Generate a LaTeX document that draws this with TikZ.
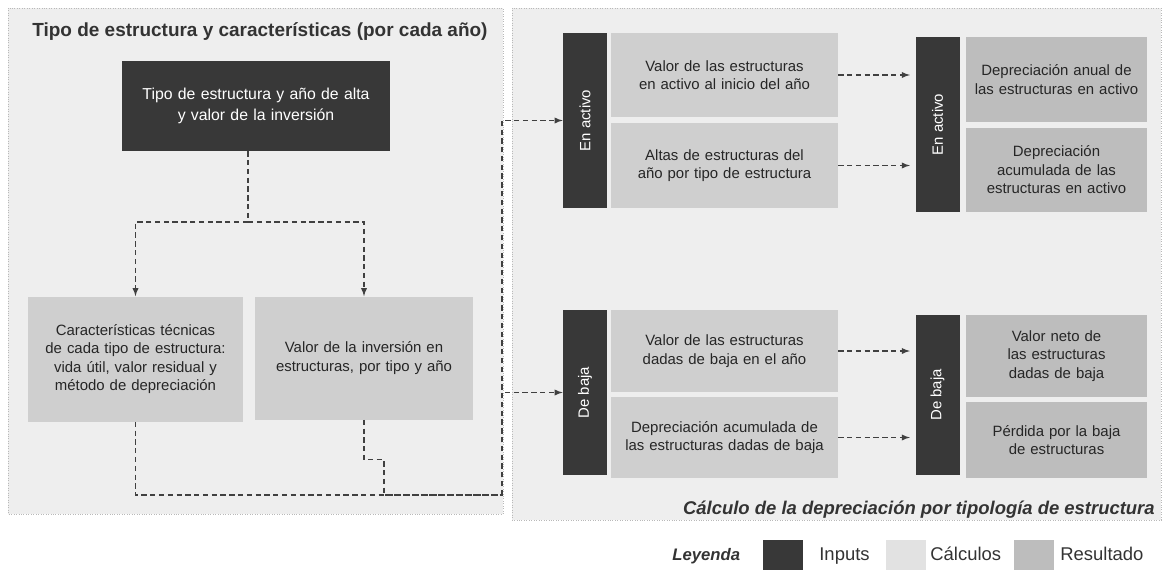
\documentclass[tikz,border=0pt]{standalone}
\usepackage{fontspec}
\setmainfont{Liberation Sans}
\hyphenpenalty=10000
\exhyphenpenalty=10000
\colorlet{panelbg}{gray!13}
\colorlet{inputc}{black!78}
\colorlet{calcc}{gray!38}
\colorlet{resc}{gray!52}
\tikzset{>=latex}
\tikzset{
  panel/.style = {fill=panelbg, draw=gray!55, densely dotted},
  boxtext/.style = {align=center, font=\fontsize{8.5}{10.5}\selectfont, inner sep=2pt},
  inputbox/.style = {boxtext, fill=inputc, text=white},
  inputbar/.style = {inputbox, minimum width=0.88cm},
  calcbox/.style = {boxtext, fill=calcc, text=black!85},
  resbox/.style = {boxtext, fill=resc, text=black!85},
  link/.style = {densely dashed, semithick, black!75},
  swatch/.style = {minimum width=0.8cm, minimum height=0.6cm, inner sep=0pt},
  legtext/.style = {font=\fontsize{10.5}{12}\selectfont, inner sep=0pt, text=black!80}
}
\begin{document}
\begin{tikzpicture}[x=0.02cm,y=-0.02cm]
  \useasboundingbox (0,0) rectangle (1165,576);
  \fill[white] (0,0) rectangle (1165,576);
  \draw[panel] (8,8) rectangle (503,514);
  \draw[panel] (512,8) rectangle (1161,520);

  \node[anchor=west, font=\bfseries\fontsize{10.8}{12}\selectfont, text=black!80, inner sep=0pt] (titulo) at (32,32)
    {Tipo de estructura y características (por cada año)};
  \node[inputbox, minimum width=5.36cm, minimum height=1.8cm, text width=5.2cm, font=\fontsize{9}{12}\selectfont] (tipo) at (256,106)
    {Tipo de estructura y año de alta\\y valor de la inversión};
  \node[calcbox, minimum width=4.3cm, minimum height=2.5cm, text width=3.9cm] (vida) at (135.5,359)
    {Características técnicas de cada tipo de estructura: vida útil, valor residual y método de depreciación};
  \node[calcbox, minimum width=4.36cm, minimum height=2.46cm, text width=3.9cm] (valor) at (364,358)
    {Valor de la inversión en estructuras, por tipo y año};

  \coordinate (rama) at (248,222);
  \coordinate (bus) at (502,495);
  \draw[link] (tipo.south -| rama) -- (rama);
  \draw[link,->] (rama) -| (vida.north);
  \draw[link,->] (rama) -| (valor.north);
  \draw[link] (vida.south) |- (bus);
  \draw[link] (valor.south) -- ++(0,40) -- ++(20,0) |- (bus);

  \node[inputbar, minimum height=3.5cm] (actL) at (585,120.5) {\rotatebox{90}{En activo}};
  \node[calcbox, minimum width=4.54cm, minimum height=1.68cm, text width=4cm] (t11) at (724.5,75)
    {Valor de las estructuras en activo al inicio del año};
  \node[calcbox, minimum width=4.54cm, minimum height=1.7cm, text width=4cm] (t12) at (724.5,165.5)
    {Altas de estructuras del año por tipo de estructura};
  \node[inputbar, minimum height=3.5cm] (actR) at (937.5,124.5) {\rotatebox{90}{En activo}};
  \node[resbox, minimum width=3.62cm, minimum height=1.7cm, text width=3.3cm] (r11) at (1056.5,79.5)
    {Depreciación anual de las estructuras en activo};
  \node[resbox, minimum width=3.62cm, minimum height=1.68cm, text width=3.3cm] (r12) at (1056.5,170)
    {Depreciación acumulada de las estructuras en activo};

  \node[inputbar, minimum height=3.3cm] (bajL) at (585,392.5) {\rotatebox{90}{De baja}};
  \node[calcbox, minimum width=4.54cm, minimum height=1.64cm, text width=4cm] (t21) at (724.5,351)
    {Valor de las estructuras dadas de baja en el año};
  \node[calcbox, minimum width=4.54cm, minimum height=1.62cm, text width=4cm] (t22) at (724.5,437.5)
    {Depreciación acumulada de las estructuras dadas de baja};
  \node[inputbar, minimum height=3.2cm] (bajR) at (937.5,395) {\rotatebox{90}{De baja}};
  \node[resbox, minimum width=3.62cm, minimum height=1.64cm, text width=3.3cm] (r21) at (1056.5,356)
    {Valor neto de las estructuras dadas de baja};
  \node[resbox, minimum width=3.62cm, minimum height=1.52cm, text width=3.3cm] (r22) at (1056.5,440)
    {Pérdida por la baja de estructuras};

  \draw[link,->] (bus) |- (actL.west);
  \draw[link,->] (bus) |- (bajL.west);
  \foreach \A/\B in {t11/actR,t12/actR,t21/bajR,t22/bajR}
    \draw[link,->,shorten >=3pt] (\A.east) -- (\A.east -| \B.west);

  \node[anchor=east, font=\bfseries\itshape\fontsize{10.5}{12}\selectfont, text=black!80, inner sep=0pt] (pie) at (1155,510)
    {Cálculo de la depreciación por tipología de estructura};

  \node[legtext, anchor=base west, font=\bfseries\itshape\fontsize{9.5}{11}\selectfont] (ley) at (672,560) {Leyenda};
  \node[swatch, fill=inputc] (swin) at (783,555) {};
  \node[legtext, anchor=base west] (lin) at (819,560) {Inputs};
  \node[swatch, fill=calcc!60] (swcal) at (906,555) {};
  \node[legtext, anchor=base west] (lcal) at (930,560) {Cálculos};
  \node[swatch, fill=resc] (swres) at (1034,555) {};
  \node[legtext, anchor=base west] (lres) at (1060,560) {Resultado};
\end{tikzpicture}
\end{document}
